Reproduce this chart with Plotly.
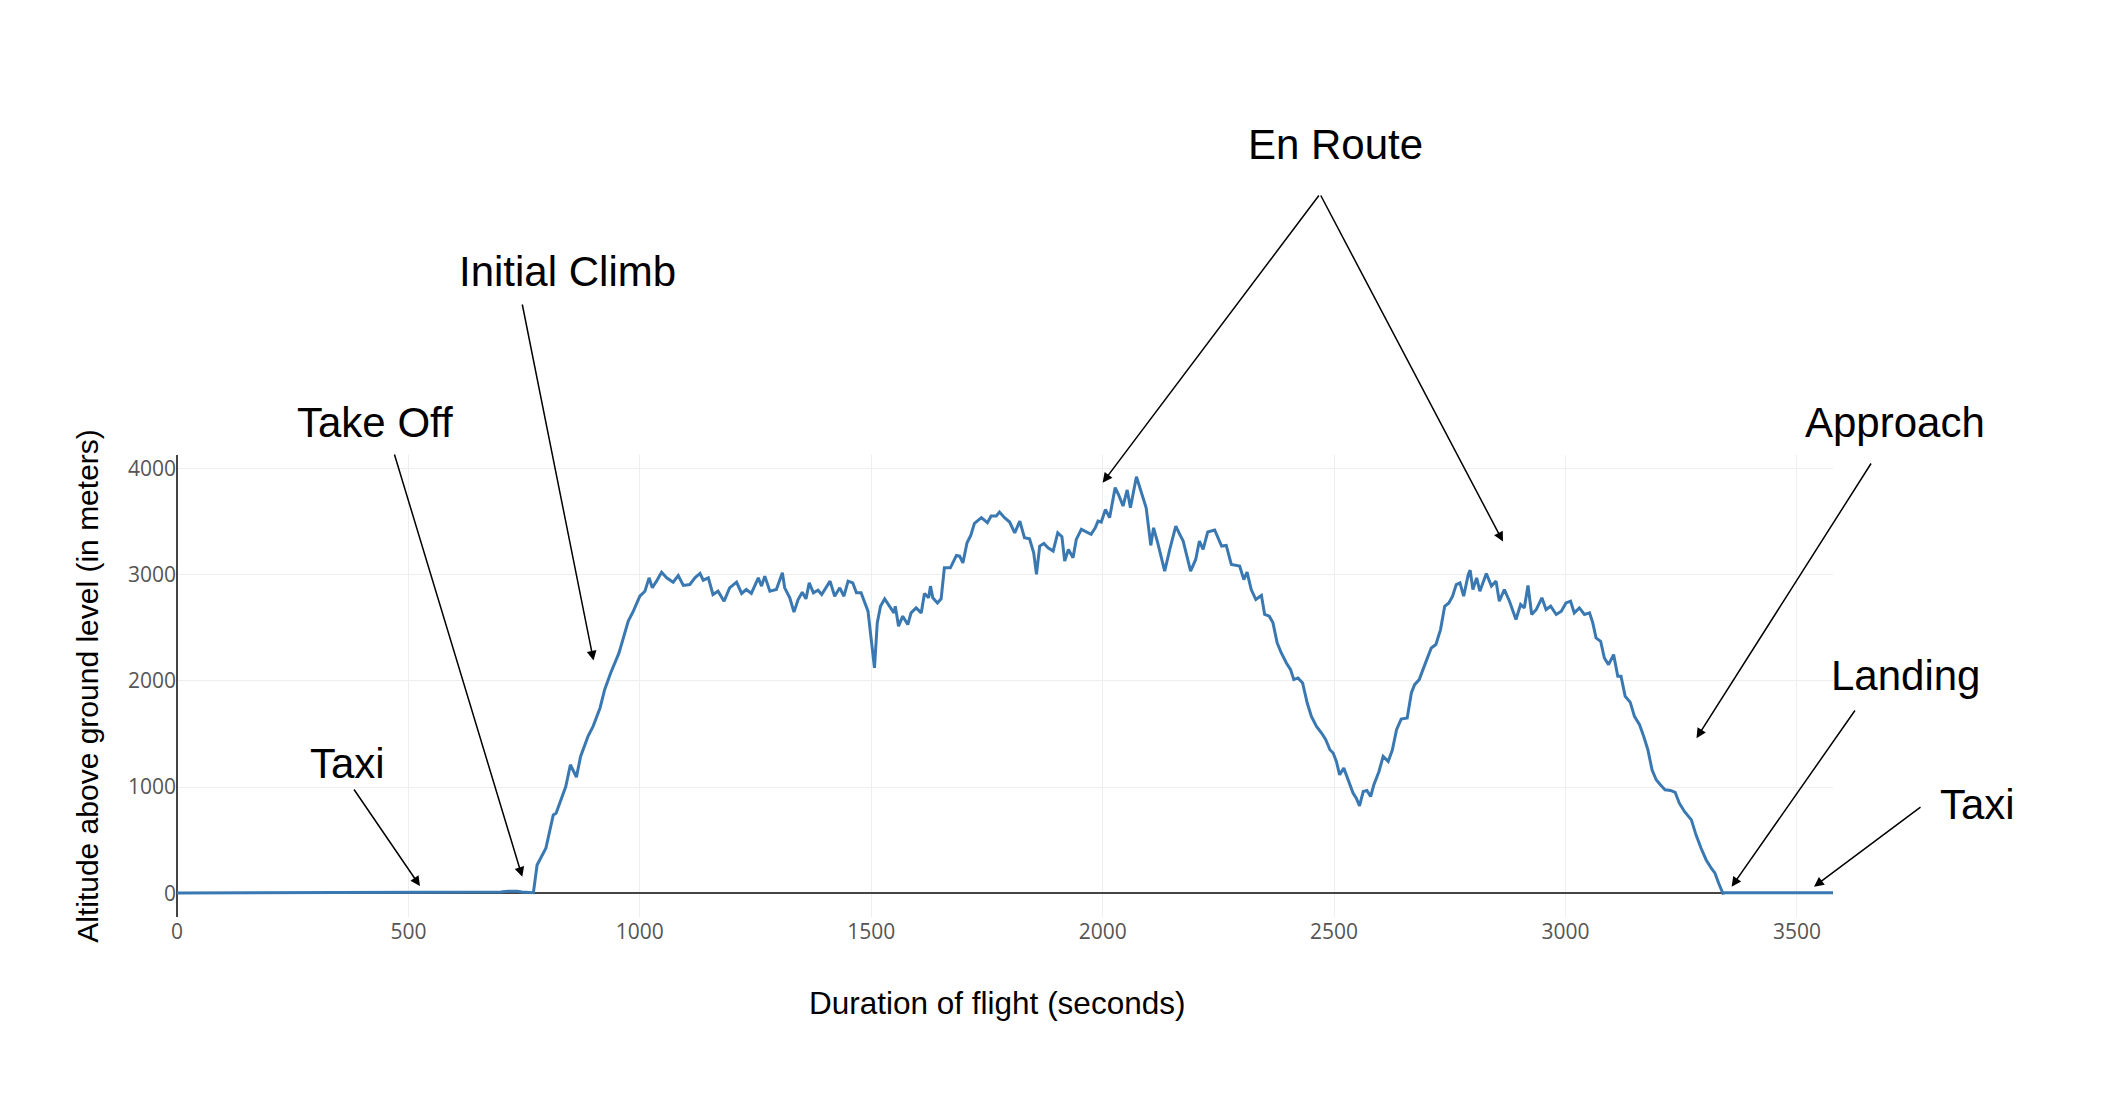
import plotly.graph_objects as go

# Flight altitude profile (seconds, meters above ground level)
time_s = [0, 100, 200, 300, 380, 390, 500, 600, 700, 715, 735, 745, 766, 770,
          778, 797, 813, 819, 840, 850, 863, 872, 888, 899, 914, 924, 937, 955, 975, 986,
          1000, 1011, 1020, 1027, 1036, 1047, 1058, 1072, 1083, 1094, 1108, 1119, 1130, 1137,
          1148, 1158, 1169, 1182, 1194, 1209, 1220, 1230, 1241, 1256, 1263, 1270, 1281, 1295,
          1308, 1313, 1324, 1333, 1342, 1351, 1359, 1366, 1375, 1385, 1393, 1411, 1421, 1432,
          1441, 1450, 1460, 1468, 1478, 1493, 1500, 1507, 1513, 1520, 1529, 1540, 1549, 1552,
          1559, 1568, 1579, 1586, 1597, 1608, 1615, 1624, 1628, 1633, 1643, 1651, 1658, 1671,
          1684, 1691, 1698, 1707, 1715, 1723, 1730, 1738, 1751, 1759, 1770, 1777, 1788, 1799,
          1810, 1821, 1831, 1842, 1851, 1857, 1864, 1873, 1882, 1893, 1903, 1912, 1918, 1926,
          1936, 1943, 1954, 1965, 1975, 1984, 1990, 1997, 2006, 2015, 2027, 2034, 2044, 2053,
          2060, 2073, 2083, 2094, 2104, 2110, 2119, 2134, 2145, 2158, 2165, 2174, 2190, 2201,
          2209, 2217, 2227, 2242, 2257, 2267, 2278, 2296, 2305, 2312, 2321, 2331, 2343, 2350,
          2360, 2368, 2377, 2386, 2397, 2406, 2413, 2422, 2432, 2442, 2451, 2462, 2473, 2482,
          2491, 2498, 2505, 2512, 2521, 2530, 2541, 2548, 2555, 2563, 2571, 2579, 2586, 2597,
          2606, 2617, 2626, 2635, 2645, 2658, 2667, 2674, 2684, 2692, 2700, 2710, 2720, 2730,
          2739, 2748, 2756, 2764, 2772, 2780, 2790, 2794, 2800, 2808, 2815, 2829, 2840, 2850,
          2857, 2868, 2879, 2893, 2903, 2911, 2919, 2927, 2937, 2949, 2958, 2968, 2980, 2991,
          3001, 3011, 3019, 3030, 3041, 3052, 3059, 3066, 3076, 3084, 3093, 3104, 3113, 3120,
          3129, 3140, 3149, 3160, 3169, 3178, 3187, 3196, 3205, 3215, 3227, 3237, 3246, 3257,
          3272, 3282, 3293, 3304, 3315, 3323, 3331, 3340, 3345, 3578]

altitude_m = [2, 3, 5, 6, 8, 12, 12, 13, 13, 20, 20, 12, 5, 5,
              267, 424, 738, 754, 1005, 1210, 1093, 1288, 1477, 1571, 1744, 1916, 2074, 2262, 2561, 2655,
              2796, 2843, 2969, 2875, 2938, 3022, 2969, 2928, 2991, 2897, 2906, 2969, 3010, 2947,
              2969, 2812, 2843, 2749, 2875, 2928, 2822, 2859, 2822, 2969, 2891, 2985, 2843, 2859,
              3016, 2875, 2781, 2646, 2765, 2834, 2771, 2922, 2828, 2853, 2812, 2938, 2796, 2875,
              2796, 2938, 2922, 2828, 2828, 2655, 2388, 2121, 2545, 2702, 2771, 2702, 2639, 2702,
              2514, 2608, 2529, 2639, 2686, 2639, 2822, 2781, 2891, 2781, 2733, 2771, 3063, 3063,
              3180, 3173, 3110, 3299, 3368, 3481, 3503, 3535, 3488, 3550, 3550, 3588, 3535, 3494,
              3393, 3503, 3346, 3337, 3205, 3001, 3268, 3293, 3252, 3221, 3393, 3356, 3126, 3236,
              3158, 3331, 3425, 3400, 3378, 3440, 3503, 3494, 3613, 3535, 3818, 3755, 3645, 3796,
              3629, 3921, 3770, 3629, 3274, 3440, 3299, 3032, 3236, 3456, 3393, 3315, 3032, 3142,
              3315, 3236, 3400, 3419, 3268, 3274, 3095, 3079, 2953, 3022, 2859, 2765, 2803, 2624,
              2608, 2545, 2357, 2262, 2168, 2105, 2011, 2027, 1979, 1791, 1665, 1571, 1508, 1445,
              1351, 1320, 1241, 1115, 1178, 1068, 943, 895, 823, 958, 968, 911, 1021, 1147,
              1288, 1241, 1351, 1540, 1640, 1650, 1885, 1964, 2011, 2105, 2199, 2309, 2341, 2482,
              2702, 2733, 2796, 2906, 2922, 2796, 3001, 3041, 2859, 2969, 2843, 3010, 2891, 2938,
              2749, 2859, 2749, 2576, 2718, 2686, 2897, 2624, 2671, 2781, 2671, 2702, 2624, 2655,
              2733, 2749, 2639, 2686, 2624, 2639, 2545, 2404, 2372, 2215, 2152, 2246, 2042, 2042,
              1854, 1797, 1665, 1587, 1477, 1351, 1163, 1068, 1021, 974, 968, 949, 848, 770,
              691, 550, 424, 314, 236, 189, 94, 0, 5, 5]

# Phase labels: text, label position (screen px), arrow heads (data), arrow tails (screen px)
phase_labels = ["En Route", "Initial Climb", "Take Off", "Taxi", "Approach", "Landing", "Taxi"]
label_px = [(1335, 144), (567, 271), (375, 422), (347, 763), (1895, 423), (1905, 675), (1977, 804)]
arrow_heads_t = [2000, 2865, 900, 746, 525, 3283, 3359, 3537]
arrow_heads_alt = [3865, 3310, 2190, 155, 68, 1460, 62, 62]
arrow_tails_px = [(1320, 194), (1320, 194), (522, 303), (394, 453), (353, 788),
                  (1872, 462), (1856, 709), (1922, 806)]

x_title = "Duration of flight (seconds)"
x_title_px = (997, 1003)
y_title = "Altitude above ground level (in meters)"

OFF = 8  # page body margin offset of the plot div
W, H = 2122, 1094
# plot area as seen on screen
SX0, SX1, SY0, SY1 = 177, 1833, 455, 917
L, T = SX0 - OFF, SY0 - OFF
PW, PH = SX1 - SX0, SY1 - SY0
R, B = W - L - PW, H - T - PH
Y_RANGE = [-223, 4125]
X_RANGE = [0, 3578]

fig = go.Figure()
fig.add_trace(go.Scatter(
    x=time_s, y=altitude_m, mode="lines",
    line=dict(color="#3a78b2", width=3),
    showlegend=False,
))

annotations = []
for text, (px, py) in zip(phase_labels, label_px):
    annotations.append(dict(
        text=text, xref="paper", yref="paper",
        x=(px - SX0) / PW, y=(SY1 - py) / PH,
        xanchor="center", yanchor="middle", showarrow=False,
        font=dict(family="Liberation Sans, Arial, sans-serif", size=42, color="#000000"),
    ))

# x axis title placed as paper-referenced text
annotations.append(dict(
    text=x_title, xref="paper", yref="paper",
    x=(x_title_px[0] - SX0) / PW, y=(SY1 - x_title_px[1]) / PH,
    xanchor="center", yanchor="middle", showarrow=False,
    font=dict(family="Liberation Sans, Arial, sans-serif", size=31.5, color="#000000"),
))

def to_px(t, a):
    px = SX0 + (t - X_RANGE[0]) / (X_RANGE[1] - X_RANGE[0]) * PW
    py = SY0 + (Y_RANGE[1] - a) / (Y_RANGE[1] - Y_RANGE[0]) * PH
    return px, py

for t, a, (tx, ty) in zip(arrow_heads_t, arrow_heads_alt, arrow_tails_px):
    hx, hy = to_px(t, a)
    annotations.append(dict(
        text="", x=t, y=a, xref="x", yref="y",
        ax=tx - hx, ay=ty - hy, axref="pixel", ayref="pixel",
        showarrow=True, arrowhead=2, arrowsize=1.3, arrowwidth=1.5,
        arrowcolor="#000000",
    ))

fig.update_layout(
    width=W, height=H,
    margin=dict(l=L, r=R, t=T, b=B, pad=0),
    paper_bgcolor="white", plot_bgcolor="white",
    annotations=annotations,
    font=dict(family="Open Sans, sans-serif"),
)
fig.update_xaxes(
    range=X_RANGE, dtick=500, tick0=0,
    showgrid=True, gridcolor="#eeeeee", gridwidth=1,
    zeroline=True, zerolinecolor="#444444", zerolinewidth=2,
    showline=False, ticks="",
    tickfont=dict(family="Open Sans, sans-serif", size=21, color="#555555"),
)
fig.update_yaxes(
    range=Y_RANGE, dtick=1000, tick0=0,
    showgrid=True, gridcolor="#eeeeee", gridwidth=1,
    zeroline=True, zerolinecolor="#444444", zerolinewidth=2,
    showline=False, ticks="",
    tickfont=dict(family="Open Sans, sans-serif", size=21, color="#555555"),
    title=dict(text=y_title, standoff=20,
               font=dict(family="Liberation Sans, Arial, sans-serif", size=30, color="#000000")),
)

fig.write_html("out.html")
